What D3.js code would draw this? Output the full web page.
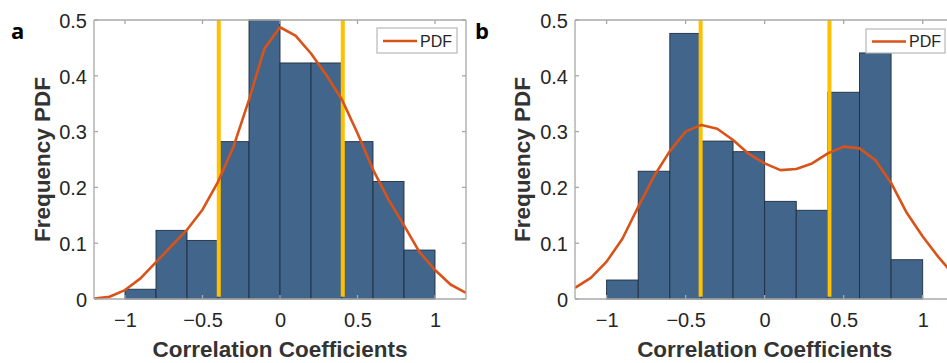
<!DOCTYPE html>
<html>
<head>
<meta charset="utf-8">
<script src="https://cdn.jsdelivr.net/npm/d3@7"></script>
<style>
  html, body { margin: 0; padding: 0; background: #fff; }
  svg { display: block; }
  text { font-family: "Liberation Sans", Arial, Helvetica, sans-serif; }
</style>
</head>
<body>
<svg id="chart" width="947" height="363"></svg>
<script>
// ---------- data ----------
const binEdges = [-1, -0.8, -0.6, -0.4, -0.2, 0, 0.2, 0.4, 0.6, 0.8, 1];
const freqA = [0.0175, 0.123, 0.105, 0.282, 0.5, 0.423, 0.423, 0.282, 0.2105, 0.0877];
const freqB = [0.034, 0.229, 0.476, 0.283, 0.264, 0.175, 0.159, 0.3705, 0.441, 0.0704];
const pdfX = [-1.2, -1.1, -1.0, -0.9, -0.8, -0.7, -0.6, -0.5, -0.4, -0.3, -0.2, -0.1, 0,
              0.1, 0.2, 0.3, 0.4, 0.5, 0.6, 0.7, 0.8, 0.9, 1.0, 1.1, 1.2];
const pdfA = [0.001, 0.004, 0.016, 0.037, 0.066, 0.095, 0.124, 0.16, 0.21, 0.273, 0.357, 0.449, 0.487,
              0.472, 0.44, 0.401, 0.357, 0.297, 0.232, 0.178, 0.132, 0.084, 0.052, 0.026, 0.011];
const pdfB = [0.02, 0.038, 0.067, 0.108, 0.165, 0.22, 0.265, 0.3, 0.312, 0.305, 0.285, 0.26, 0.243,
              0.231, 0.233, 0.243, 0.261, 0.273, 0.27, 0.249, 0.208, 0.154, 0.112, 0.075, 0.042];
const thresholdsA = [-0.395, 0.405];
const thresholdsB = [-0.405, 0.41];
const xTicks = [-1, -0.5, 0, 0.5, 1];
const yTicks = [0, 0.1, 0.2, 0.3, 0.4, 0.5];
const xLabel = "Correlation Coefficients";
const yLabel = "Frequency PDF";
const legendLabel = "PDF";
const panelLetters = ["a", "b"];

// ---------- style ----------
const barFill = "#42658b";
const barStroke = "#1f2e40";
const pdfColor = "#d95319";
const threshColor = "#ffc000";
const axisColor = "#a8a8a8";
const textColor = "#262626";

const svg = d3.select("#chart");

const panels = [
  { letter: panelLetters[0], freq: freqA, pdf: pdfA, thr: thresholdsA,
    left: 94, right: 466, top: 20, bottom: 299, letterX: 11, letterY: 39, ylabX: 42,
    legend: { x: 377, y: 28, w: 80, h: 25 } },
  { letter: panelLetters[1], freq: freqB, pdf: pdfB, thr: thresholdsB,
    left: 575, right: 954.3, top: 20, bottom: 299, letterX: 475, letterY: 39, ylabX: 522,
    legend: { x: 866, y: 29, w: 79, h: 24 } }
];

panels.forEach((p, i) => {
  const x = d3.scaleLinear().domain([-1.2, 1.2]).range([p.left, p.right]);
  const y = d3.scaleLinear().domain([0, 0.5]).range([p.bottom, p.top]);
  const g = svg.append("g");

  const clipId = "clip" + i;
  svg.append("clipPath").attr("id", clipId)
    .append("rect").attr("x", p.left).attr("y", p.top - 2)
    .attr("width", p.right - p.left).attr("height", p.bottom - p.top + 2);

  // bars
  const bins = p.freq.map((v, k) => ({ x0: binEdges[k], x1: binEdges[k + 1], v }));
  g.append("g").selectAll("rect").data(bins).join("rect")
    .attr("x", d => x(d.x0))
    .attr("y", d => y(d.v))
    .attr("width", d => x(d.x1) - x(d.x0))
    .attr("height", d => y(0) - y(d.v))
    .attr("fill", barFill)
    .attr("stroke", barStroke)
    .attr("stroke-width", 0.9);

  // threshold lines
  g.append("g").selectAll("line").data(p.thr).join("line")
    .attr("x1", d => x(d)).attr("x2", d => x(d))
    .attr("y1", y(0.004)).attr("y2", y(0.5))
    .attr("stroke", threshColor).attr("stroke-width", 4);

  // pdf line
  const line = d3.line().x((d, k) => x(pdfX[k])).y(d => y(d));
  g.append("path").datum(p.pdf)
    .attr("d", line)
    .attr("fill", "none")
    .attr("stroke", pdfColor)
    .attr("stroke-width", 2.6)
    .attr("stroke-linejoin", "round")
    .attr("clip-path", `url(#${clipId})`);

  // axes box
  const tickLen = 4;
  const axB = d3.axisBottom(x).tickValues(xTicks).tickSize(0).tickPadding(14).tickFormat(d3.format(""));
  const axL = d3.axisLeft(y).tickValues(yTicks).tickSize(0).tickPadding(7).tickFormat(d3.format(""));

  const gx = g.append("g").attr("transform", `translate(0,${p.bottom})`).call(axB);
  const gy = g.append("g").attr("transform", `translate(${p.left},0)`).call(axL);
  [gx, gy].forEach(a => {
    a.select(".domain").remove();
    a.selectAll("text").attr("fill", textColor).style("font-size", "20px");
  });
  gx.selectAll("text").attr("dy", "0.71em");
  gy.selectAll("text").attr("dy", "0.36em");

  // box lines
  const box = g.append("g").attr("stroke", axisColor).attr("stroke-width", 1.3).attr("fill", "none");
  box.append("line").attr("x1", p.left).attr("x2", p.right).attr("y1", p.bottom).attr("y2", p.bottom);
  box.append("line").attr("x1", p.left).attr("x2", p.right).attr("y1", p.top).attr("y2", p.top);
  box.append("line").attr("x1", p.left).attr("x2", p.left).attr("y1", p.top).attr("y2", p.bottom);
  box.append("line").attr("x1", p.right).attr("x2", p.right).attr("y1", p.top).attr("y2", p.bottom);

  // inward ticks
  xTicks.forEach(t => {
    box.append("line").attr("x1", x(t)).attr("x2", x(t)).attr("y1", p.bottom).attr("y2", p.bottom - tickLen);
    box.append("line").attr("x1", x(t)).attr("x2", x(t)).attr("y1", p.top).attr("y2", p.top + tickLen);
  });
  yTicks.forEach(t => {
    box.append("line").attr("x1", p.left).attr("x2", p.left + tickLen).attr("y1", y(t)).attr("y2", y(t));
    box.append("line").attr("x1", p.right).attr("x2", p.right - tickLen).attr("y1", y(t)).attr("y2", y(t));
  });

  // axis labels
  g.append("text")
    .attr("x", (x(-1.2) + x(1.2)) / 2 - (i === 1 ? 0 : 0))
    .attr("y", 357)
    .attr("text-anchor", "middle")
    .attr("fill", "#333")
    .style("font-size", "22.5px").style("font-weight", "bold")
    .text(xLabel);
  g.append("text")
    .attr("transform", `translate(${p.ylabX},${(p.top + p.bottom) / 2}) rotate(-90)`)
    .attr("text-anchor", "middle")
    .attr("dy", "0.35em")
    .attr("fill", "#333")
    .style("font-size", "22.5px").style("font-weight", "bold")
    .text(yLabel);

  // panel letter
  svg.append("text")
    .attr("x", p.letterX).attr("y", p.letterY)
    .attr("fill", "#000")
    .style("font-size", "22px").style("font-weight", "bold")
    .style("font-family", "'Open Sans', 'Liberation Sans', sans-serif")
    .text(p.letter);

  // legend
  const L = p.legend;
  const lg = svg.append("g");
  lg.append("rect").attr("x", L.x).attr("y", L.y).attr("width", L.w).attr("height", L.h)
    .attr("fill", "#fff").attr("stroke", "#b8b8b8").attr("stroke-width", 1.2);
  lg.append("line").attr("x1", L.x + 6).attr("x2", L.x + 40)
    .attr("y1", L.y + L.h / 2 + 0.5).attr("y2", L.y + L.h / 2 + 0.5)
    .attr("stroke", pdfColor).attr("stroke-width", 2.6);
  lg.append("text").attr("x", L.x + 43).attr("y", L.y + L.h / 2 + 0.5)
    .attr("dy", "0.36em").attr("fill", textColor)
    .style("font-size", "16px").text(legendLabel);
});
</script>
</body>
</html>
